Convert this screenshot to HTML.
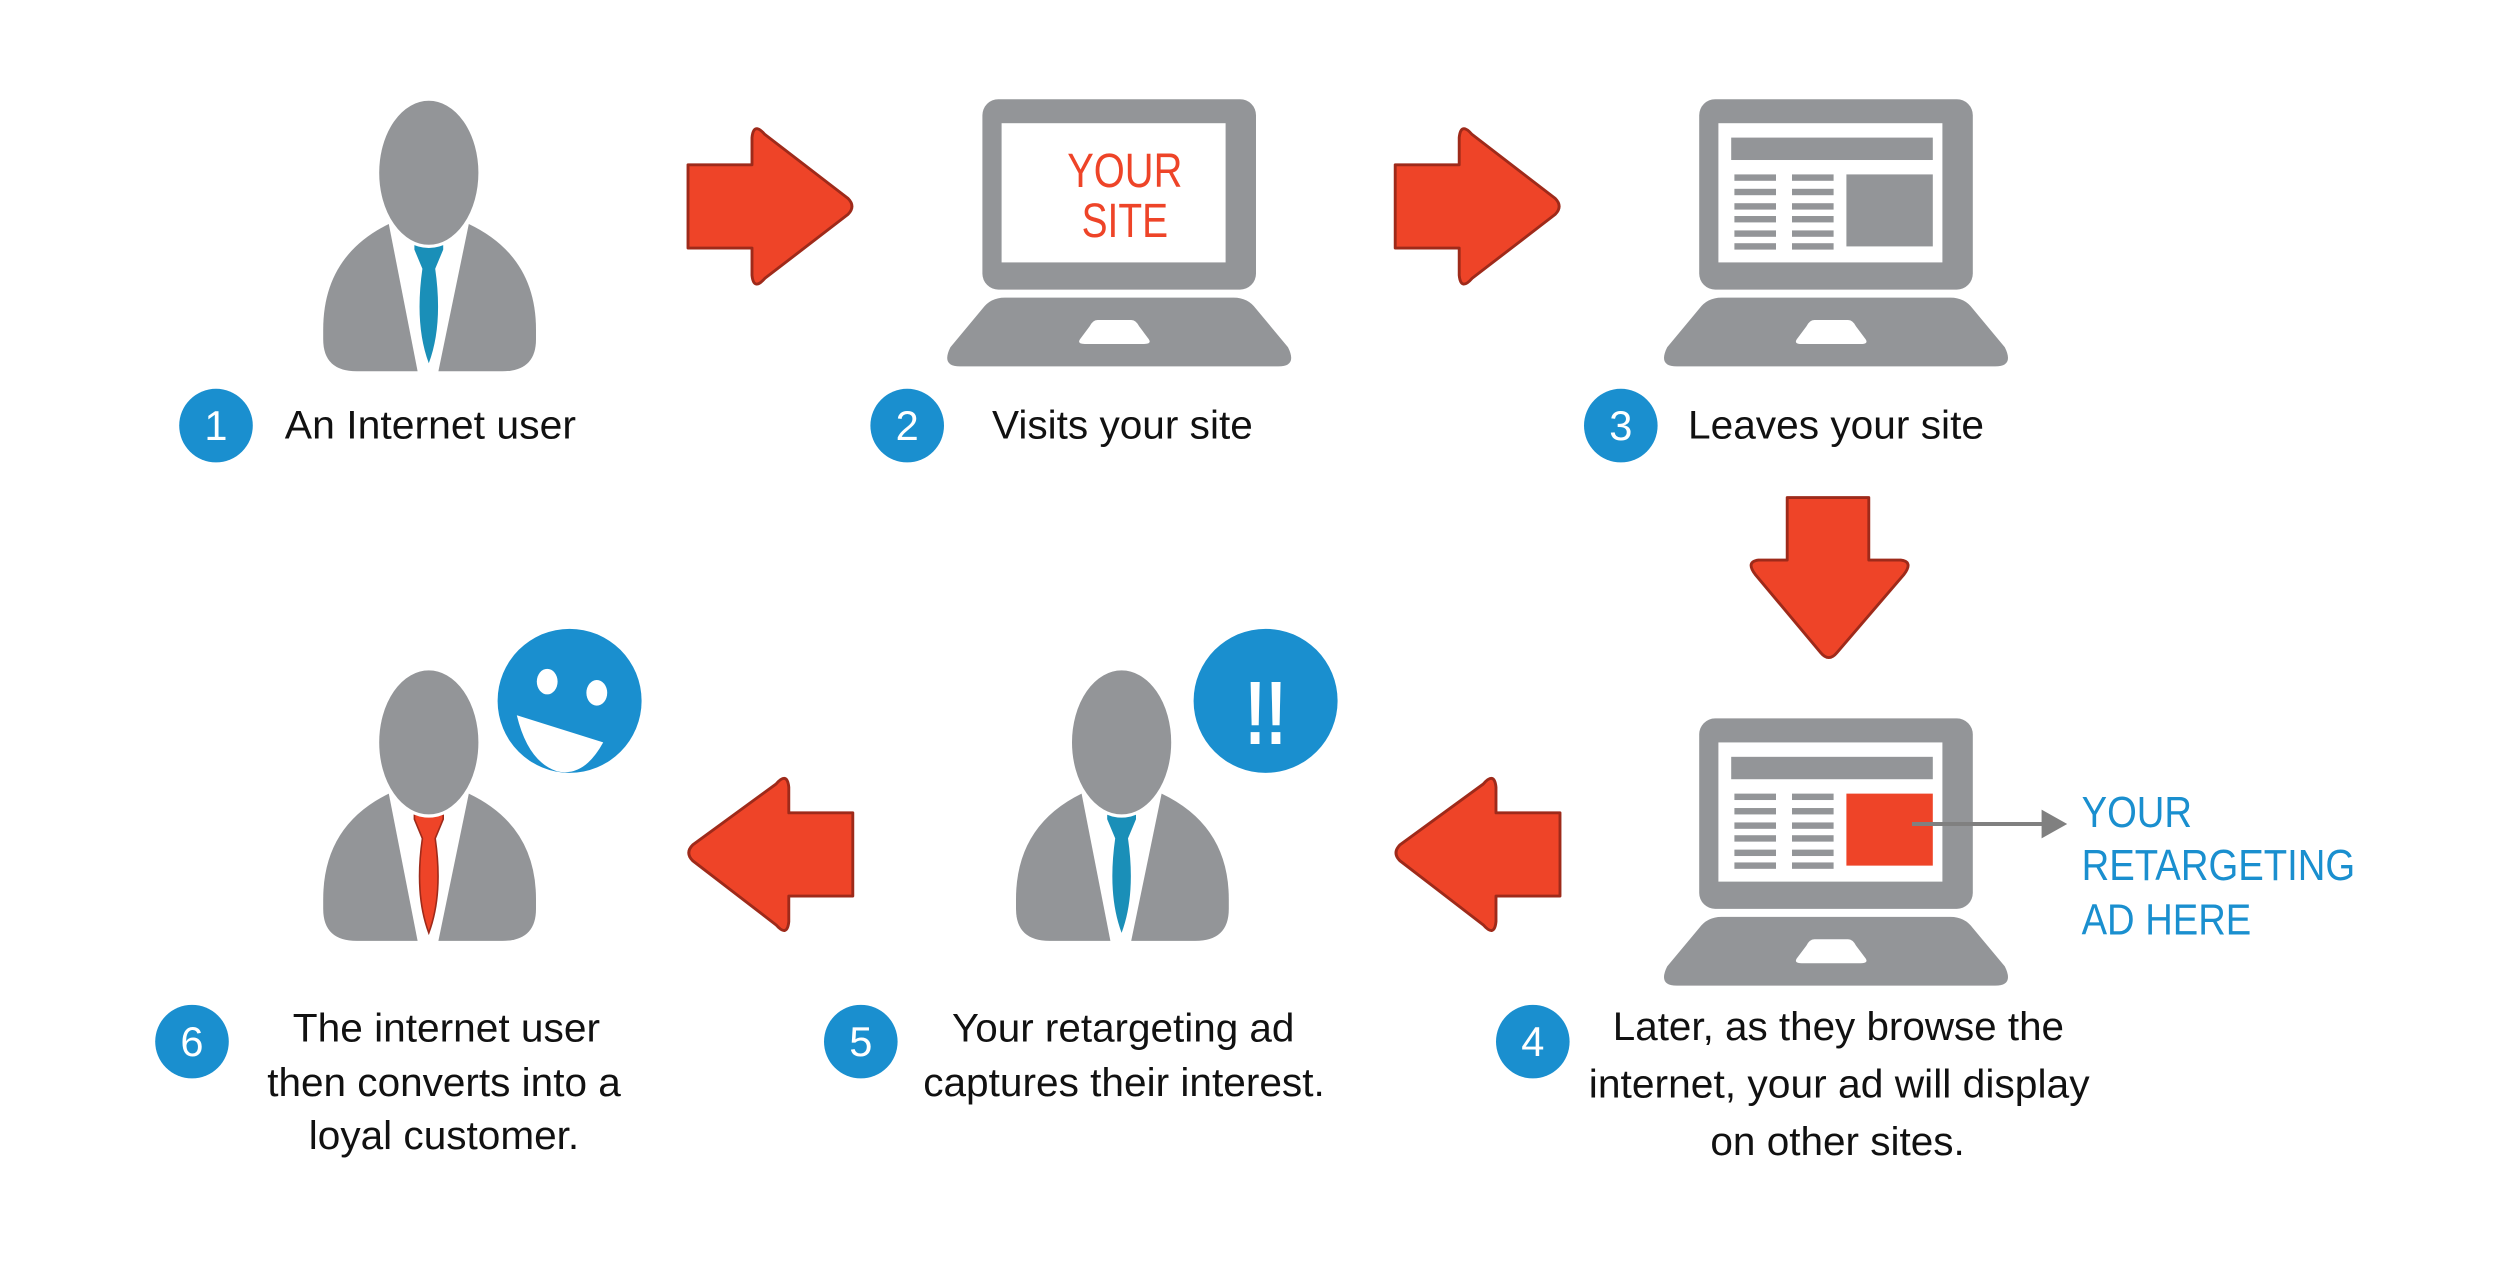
<!DOCTYPE html>
<html><head><meta charset="utf-8"><style>
html,body{margin:0;padding:0;background:#fff;}
svg{display:block;}
text{font-family:"Liberation Sans",sans-serif;}
</style></head><body>
<svg width="2500" height="1265" viewBox="0 0 1562.5 790.6" preserveAspectRatio="none" xmlns="http://www.w3.org/2000/svg">
<defs>
<g id="body">
<path d="M-25,32 Q-66,52 -66,98 L-66,104 Q-66,124 -45,124 L-7,124 Z" fill="#939598"/>
<path d="M25,32 Q67,52 67,98 L67,104 Q67,124 46,124 L6,124 Z" fill="#939598"/>
</g>
<ellipse id="head" cx="0" cy="0" rx="32" ry="46" fill="#939598" stroke="#fff" stroke-width="2"/>
<path id="tie" d="M-9,38 L9,38 L9,48 L4,60 Q9,95 0,119 Q-9,95 -4,60 L-9,48 Z"/>
<g id="laptop">
<rect x="0" y="0" width="171" height="119" rx="10" fill="#939598"/>
<rect x="12" y="15" width="140" height="87" fill="#fff"/>
<path d="M14,124 L157,124 Q166,124 171,131 L191,155 Q197,167 185,167 L-14,167 Q-26,167 -20,155 L0,131 Q5,124 14,124 Z" fill="#939598"/>
<path d="M72,138 L93,138 Q96,138 98,142 L104,150 Q106,153 101,153 L64,153 Q59,153 61,150 L67,142 Q69,138 72,138 Z" fill="#fff"/>
</g>
<g id="page">
<rect x="20" y="24" width="126" height="14" fill="#939598"/>
<g fill="#939598">
<rect x="22" y="47" width="26" height="4"/><rect x="58" y="47" width="26" height="4"/>
<rect x="22" y="56" width="26" height="4"/><rect x="58" y="56" width="26" height="4"/>
<rect x="22" y="65" width="26" height="4"/><rect x="58" y="65" width="26" height="4"/>
<rect x="22" y="73" width="26" height="4"/><rect x="58" y="73" width="26" height="4"/>
<rect x="22" y="82" width="26" height="4"/><rect x="58" y="82" width="26" height="4"/>
<rect x="22" y="90" width="26" height="4"/><rect x="58" y="90" width="26" height="4"/>
</g>
</g>
</defs>

<g transform="translate(268,108)"><use href="#body"/><use href="#tie" fill="#1a8fb8"/><use href="#head"/></g>
<g transform="translate(701,464)"><use href="#body"/><use href="#tie" fill="#1a8fb8"/><use href="#head"/></g>
<g transform="translate(268,464)"><use href="#body"/><use href="#tie" fill="#ee4428" stroke="#9e2a1a" stroke-width="1"/><use href="#head"/></g>

<g transform="translate(614,62)"><use href="#laptop"/></g>
<text x="667" y="117" font-size="30" fill="#ee4428" textLength="72" lengthAdjust="spacingAndGlyphs">YOUR</text>
<text x="676" y="148" font-size="30" fill="#ee4428" textLength="54" lengthAdjust="spacingAndGlyphs">SITE</text>
<g transform="translate(1062,62)"><use href="#laptop"/><use href="#page"/><rect x="92" y="47" width="54" height="45" fill="#939598"/></g>
<g transform="translate(1062,449)"><use href="#laptop"/><use href="#page"/><rect x="92" y="47" width="54" height="45" fill="#ee4428"/></g>
<line x1="1195" y1="515" x2="1278" y2="515" stroke="#808080" stroke-width="2.5"/>
<path d="M1276,506 L1292,515 L1276,524 Z" fill="#808080"/>
<g font-size="27" fill="#1a8fcf">
<text x="1301" y="517" textLength="69" lengthAdjust="spacingAndGlyphs">YOUR</text>
<text x="1301" y="550" textLength="171" lengthAdjust="spacingAndGlyphs">RETARGETING</text>
<text x="1301" y="584" textLength="106" lengthAdjust="spacingAndGlyphs">AD HERE</text>
</g>

<g fill="#ee4428" stroke="#9e2a1a" stroke-width="1.8" stroke-linejoin="round">
<path d="M430,103 L470,103 L470,86 Q471,76 478,84 L530,124 Q535,129 530,134 L478,174 Q471,182 470,172 L470,155 L430,155 Z"/>
<path d="M872,103 L912,103 L912,86 Q913,76 920,84 L972,124 Q977,129 972,134 L920,174 Q913,182 912,172 L912,155 L872,155 Z"/>
<path d="M1117,311 L1168,311 L1168,350 L1188,350 Q1196,351 1190,359 L1148,408 Q1143,414 1138,408 L1097,359 Q1091,351 1099,350 L1117,350 Z"/>
<path d="M975,508 L935,508 L935,492 Q934,482 927,490 L875,528 Q870,533 875,538 L927,578 Q934,586 935,576 L935,560 L975,560 Z"/>
<path d="M533,508 L493,508 L493,492 Q492,482 485,490 L433,528 Q428,533 433,538 L485,578 Q492,586 493,576 L493,560 L533,560 Z"/>
</g>

<circle cx="356" cy="438" r="45" fill="#1a8fcf"/>
<ellipse cx="342" cy="426" rx="6.5" ry="8" fill="#fff"/>
<ellipse cx="373" cy="433" rx="6.5" ry="8" fill="#fff"/>
<path d="M323,447 L377,464 Q365,486 348,482 Q330,476 323,447 Z" fill="#fff"/>
<circle cx="791" cy="438" r="45" fill="#1a8fcf"/>
<text x="791" y="465" font-size="56" font-weight="bold" fill="#fff" text-anchor="middle" transform="translate(791,0) scale(0.7,1) translate(-791,0)">!!</text>

<g fill="#1a8fcf">
<circle cx="135" cy="266" r="23"/><circle cx="567" cy="266" r="23"/><circle cx="1013" cy="266" r="23"/>
<circle cx="958" cy="651" r="23"/><circle cx="538" cy="651" r="23"/><circle cx="120" cy="651" r="23"/>
</g>
<g font-size="26" fill="#fff" text-anchor="middle">
<text x="135" y="275">1</text><text x="567" y="275">2</text><text x="1013" y="275">3</text>
<text x="958" y="660">4</text><text x="538" y="660">5</text><text x="120" y="660">6</text>
</g>

<g font-size="25" fill="#111" lengthAdjust="spacingAndGlyphs">
<text x="178" y="274" textLength="182" lengthAdjust="spacingAndGlyphs">An Internet user</text>
<text x="620" y="274" textLength="163" lengthAdjust="spacingAndGlyphs">Visits your site</text>
<text x="1055" y="274" textLength="185" lengthAdjust="spacingAndGlyphs">Leaves your site</text>
<text x="1008" y="650" textLength="282" lengthAdjust="spacingAndGlyphs">Later, as they browse the</text>
<text x="993" y="686" textLength="313" lengthAdjust="spacingAndGlyphs">internet, your ad will display</text>
<text x="1069" y="722" textLength="159" lengthAdjust="spacingAndGlyphs">on other sites.</text>
<text x="595" y="651" textLength="214" lengthAdjust="spacingAndGlyphs">Your retargeting ad</text>
<text x="577" y="685" textLength="251" lengthAdjust="spacingAndGlyphs">captures their interest.</text>
<text x="183" y="651" textLength="192" lengthAdjust="spacingAndGlyphs">The internet user</text>
<text x="167" y="685" textLength="221" lengthAdjust="spacingAndGlyphs">then converts into a</text>
<text x="193" y="718" textLength="169" lengthAdjust="spacingAndGlyphs">loyal customer.</text>
</g>
</svg>
</body></html>
